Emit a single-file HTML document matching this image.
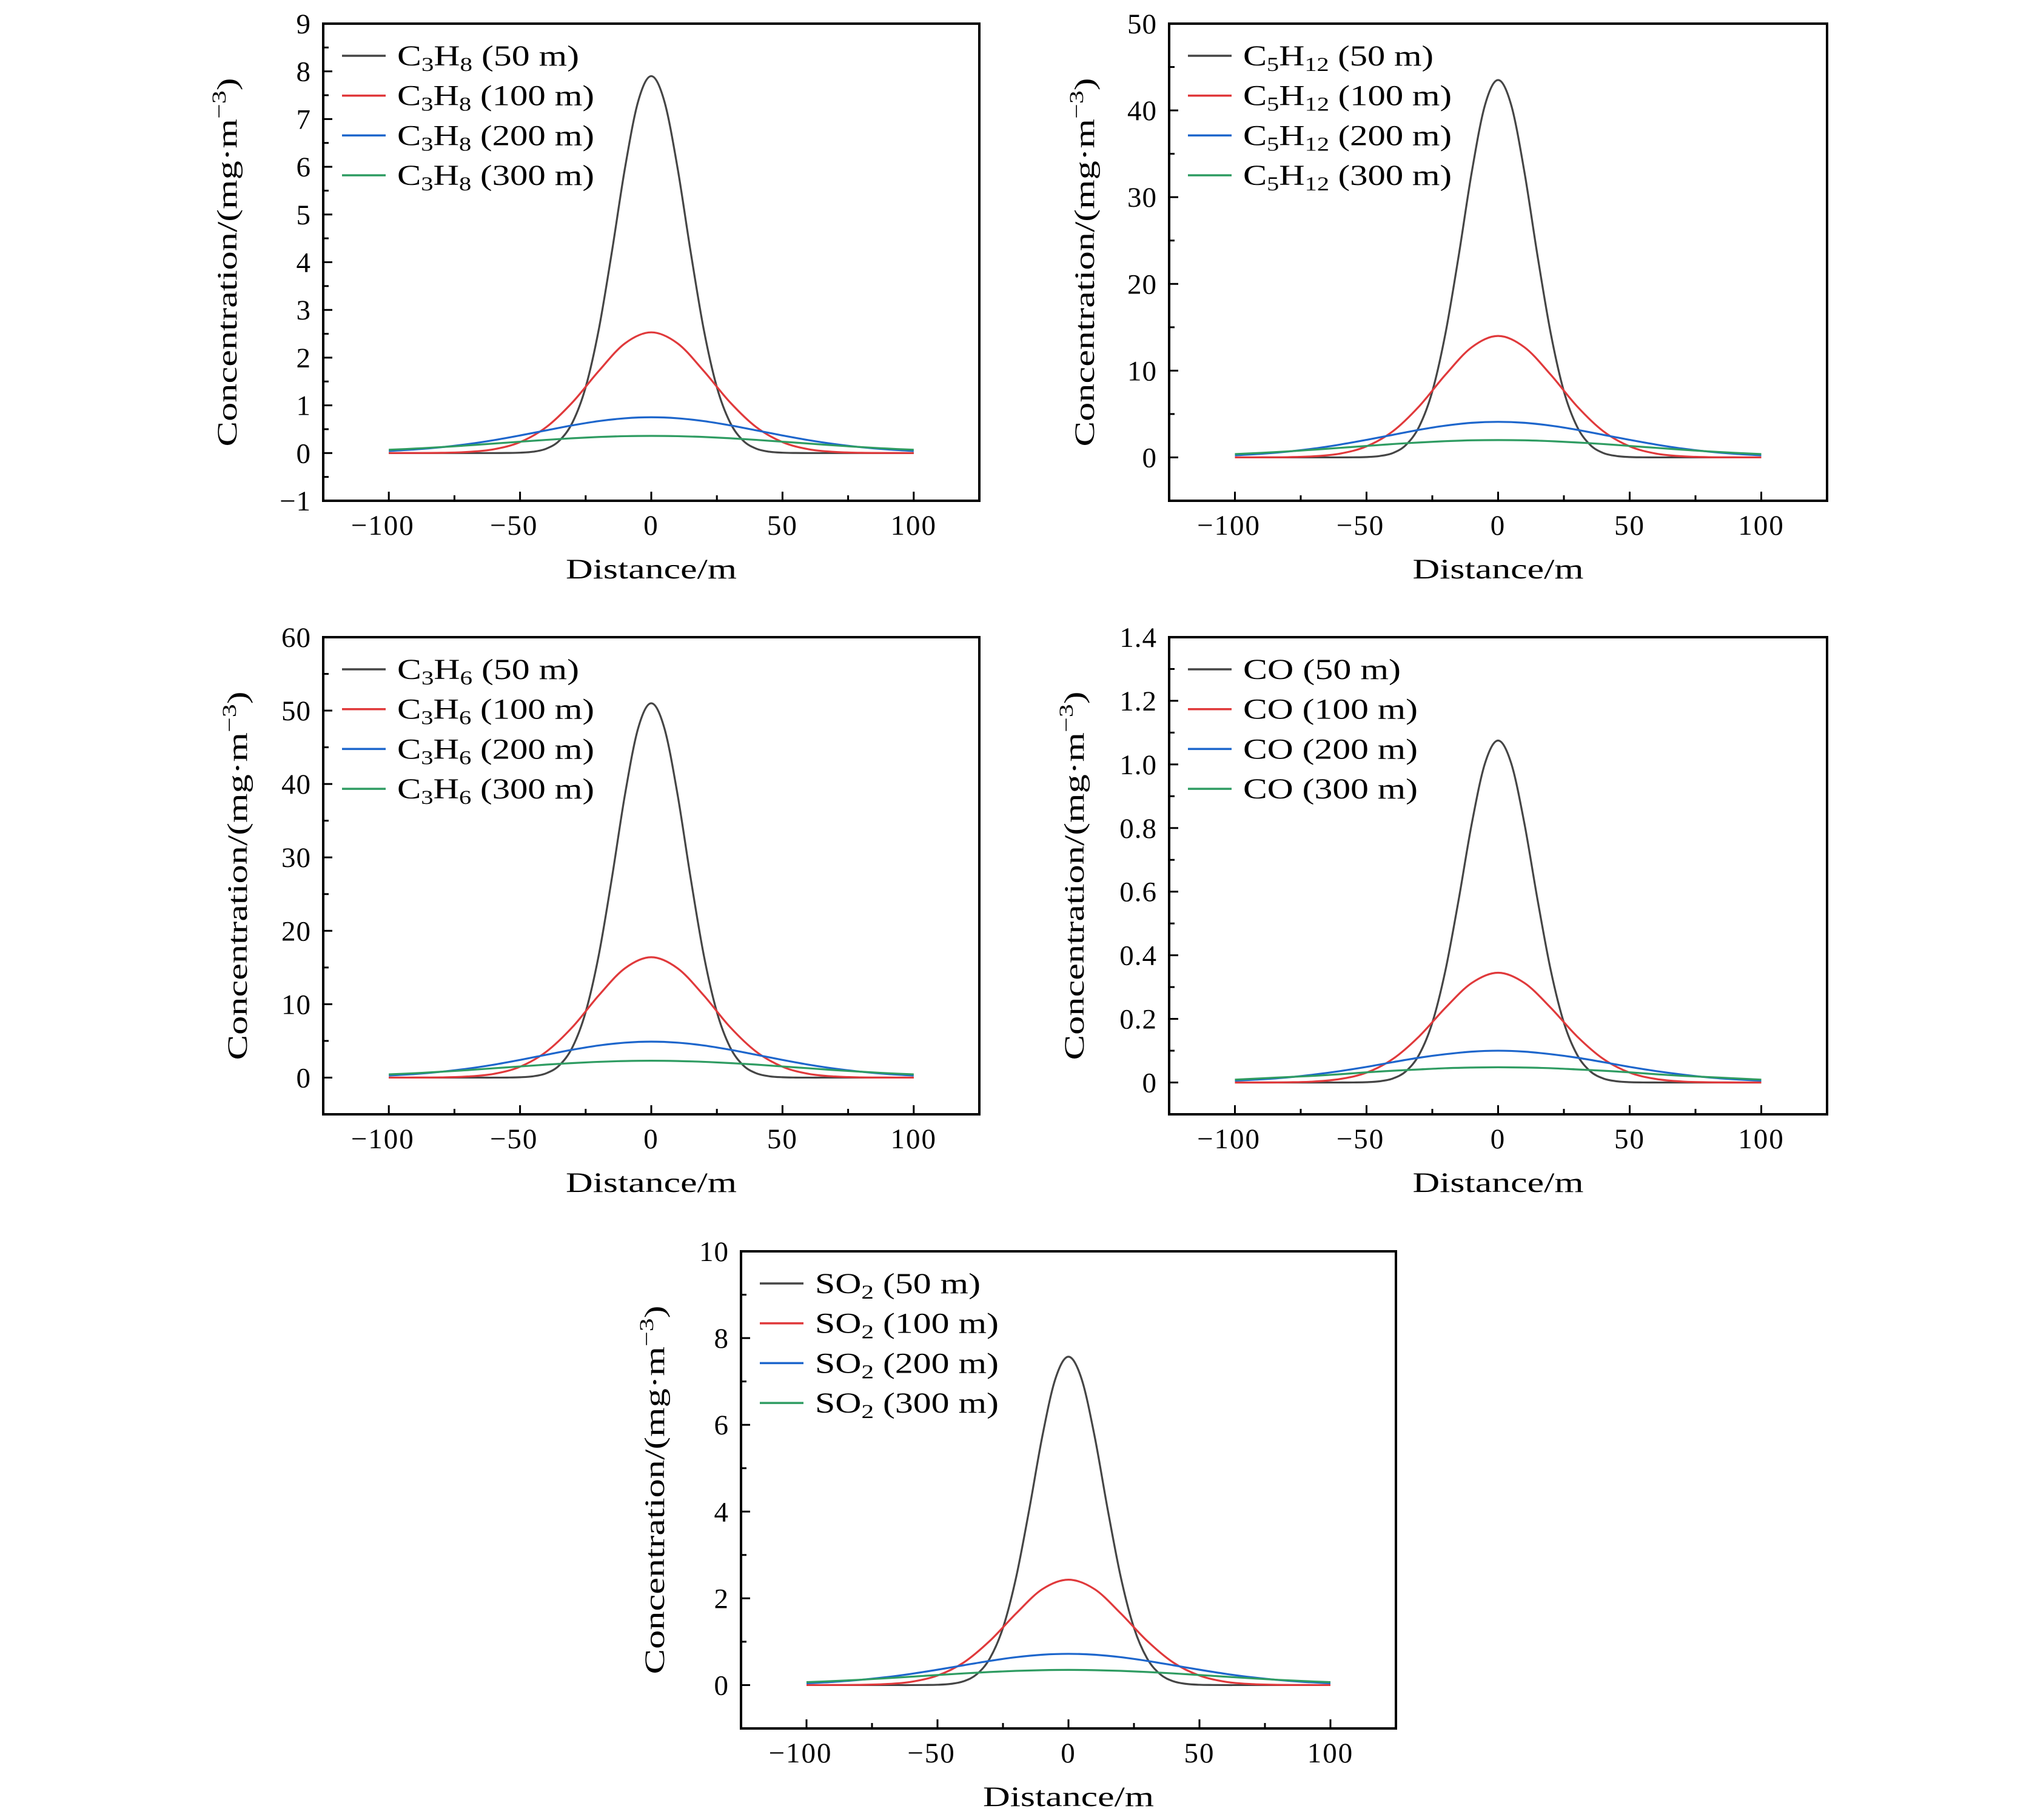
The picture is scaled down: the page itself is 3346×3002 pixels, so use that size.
<!DOCTYPE html>
<html><head><meta charset="utf-8"><style>
html,body{margin:0;padding:0;background:#fff;}
svg{display:block;}
text{font-family:"Liberation Serif",serif;fill:#000;}
</style></head><body>
<svg id="fig" width="3346" height="3002" viewBox="0 0 3346 3002" xmlns="http://www.w3.org/2000/svg"></svg>
<script>
// Shared x sample points (m)
const xPoints = [-100,-90,-80,-70,-60,-50,-40,-30,-20,-10,0,10,20,30,40,50,60,70,80,90,100];
// Finer grid for the narrow 50 m series
const xFine = [-100,-95,-90,-85,-80,-75,-70,-65,-60,-55,-50,-45,-40,-35,-30,-25,-20,-15,-10,-5,0,5,10,15,20,25,30,35,40,45,50,55,60,65,70,75,80,85,90,95,100];
const xTicks = [-100,-50,0,50,100];
const xTickLabels = ["\u2212100","\u221250","0","50","100"];
const distances = ["50 m","100 m","200 m","300 m"];

// Panel 1: C3H8
const c3h8_50  = [0,0,0,0,0,0,0,0,0,0.002,0.008,0.028,0.092,0.261,0.644,1.38,2.59,4.22,5.98,7.37,7.9,7.37,5.98,4.22,2.59,1.38,0.644,0.261,0.092,0.028,0.008,0.002,0,0,0,0,0,0,0,0,0];
const c3h8_100 = [0,0.001,0.005,0.023,0.079,0.229,0.544,1.065,1.72,2.30,2.53,2.30,1.72,1.065,0.544,0.229,0.079,0.023,0.005,0.001,0];
const c3h8_200 = [0.044,0.076,0.122,0.187,0.270,0.369,0.476,0.581,0.670,0.729,0.75,0.729,0.670,0.581,0.476,0.369,0.270,0.187,0.122,0.076,0.044];
const c3h8_300 = [0.069,0.094,0.125,0.160,0.199,0.238,0.276,0.310,0.337,0.354,0.36,0.354,0.337,0.310,0.276,0.238,0.199,0.160,0.125,0.094,0.069];
const c3h8_yTicks = [-1,0,1,2,3,4,5,6,7,8,9];
const c3h8_yTickLabels = ["\u22121","0","1","2","3","4","5","6","7","8","9"];

// Panel 2: C5H12
const c5h12_50  = [0,0,0,0,0,0,0,0,0,0.01,0.04,0.16,0.50,1.44,3.55,7.61,14.3,23.2,32.9,40.6,43.5,40.6,32.9,23.2,14.3,7.61,3.55,1.44,0.50,0.16,0.04,0.01,0,0,0,0,0,0,0,0,0];
const c5h12_100 = [0,0.006,0.029,0.126,0.44,1.27,3.01,5.89,9.53,12.7,14,12.7,9.53,5.89,3.01,1.27,0.44,0.126,0.029,0.006,0];
const c5h12_200 = [0.24,0.41,0.67,1.02,1.48,2.02,2.60,3.18,3.66,3.99,4.1,3.99,3.66,3.18,2.60,2.02,1.48,1.02,0.67,0.41,0.24];
const c5h12_300 = [0.38,0.52,0.69,0.89,1.10,1.32,1.54,1.72,1.87,1.97,2.0,1.97,1.87,1.72,1.54,1.32,1.10,0.89,0.69,0.52,0.38];
const c5h12_yTicks = [0,10,20,30,40,50];
const c5h12_yTickLabels = ["0","10","20","30","40","50"];

// Panel 3: C3H6
const c3h6_50  = [0,0,0,0,0,0,0,0,0,0.01,0.05,0.18,0.59,1.68,4.16,8.93,16.7,27.2,38.6,47.6,51,47.6,38.6,27.2,16.7,8.93,4.16,1.68,0.59,0.18,0.05,0.01,0,0,0,0,0,0,0,0,0];
const c3h6_100 = [0,0.007,0.034,0.15,0.51,1.48,3.53,6.90,11.2,14.9,16.4,14.9,11.2,6.90,3.53,1.48,0.51,0.15,0.034,0.007,0];
const c3h6_200 = [0.29,0.49,0.80,1.22,1.76,2.41,3.11,3.80,4.38,4.76,4.9,4.76,4.38,3.80,3.11,2.41,1.76,1.22,0.80,0.49,0.29];
const c3h6_300 = [0.44,0.60,0.80,1.02,1.27,1.52,1.77,1.98,2.15,2.26,2.3,2.26,2.15,1.98,1.77,1.52,1.27,1.02,0.80,0.60,0.44];
const c3h6_yTicks = [0,10,20,30,40,50,60];
const c3h6_yTickLabels = ["0","10","20","30","40","50","60"];

// Panel 4: CO
const co_50  = [0,0,0,0,0,0,0,0,0,0.0002,0.001,0.0039,0.0125,0.0355,0.0876,0.188,0.353,0.574,0.814,1.003,1.075,1.003,0.814,0.574,0.353,0.188,0.0876,0.0355,0.0125,0.0039,0.001,0.0002,0,0,0,0,0,0,0,0,0];
const co_100 = [0,0,0.0007,0.003,0.011,0.031,0.074,0.145,0.235,0.313,0.345,0.313,0.235,0.145,0.074,0.031,0.011,0.003,0.0007,0,0];
const co_200 = [0.006,0.010,0.016,0.025,0.036,0.049,0.064,0.078,0.089,0.097,0.10,0.097,0.089,0.078,0.064,0.049,0.036,0.025,0.016,0.010,0.006];
const co_300 = [0.009,0.013,0.017,0.021,0.026,0.032,0.037,0.041,0.045,0.047,0.048,0.047,0.045,0.041,0.037,0.032,0.026,0.021,0.017,0.013,0.009];
const co_yTicks = [0,0.2,0.4,0.6,0.8,1.0,1.2,1.4];
const co_yTickLabels = ["0","0.2","0.4","0.6","0.8","1.0","1.2","1.4"];

// Panel 5: SO2
const so2_50  = [0,0,0,0,0,0,0,0,0,0.002,0.007,0.027,0.088,0.250,0.617,1.32,2.48,4.04,5.73,7.06,7.57,7.06,5.73,4.04,2.48,1.32,0.617,0.250,0.088,0.027,0.007,0.002,0,0,0,0,0,0,0,0,0];
const so2_100 = [0,0.001,0.005,0.022,0.076,0.22,0.52,1.02,1.65,2.21,2.43,2.21,1.65,1.02,0.52,0.22,0.076,0.022,0.005,0.001,0];
const so2_200 = [0.042,0.073,0.117,0.179,0.259,0.354,0.457,0.558,0.643,0.70,0.72,0.70,0.643,0.558,0.457,0.354,0.259,0.179,0.117,0.073,0.042];
const so2_300 = [0.067,0.092,0.121,0.156,0.193,0.232,0.269,0.302,0.328,0.344,0.35,0.344,0.328,0.302,0.269,0.232,0.193,0.156,0.121,0.092,0.067];
const so2_yTicks = [0,2,4,6,8,10];
const so2_yTickLabels = ["0","2","4","6","8","10"];

const NS = "http://www.w3.org/2000/svg";
const svg = document.getElementById('fig');
const colors = ["#454545","#e0393b","#1d66cc","#2f9c62"];

function mk(tag, attrs, parent){
  const e = document.createElementNS(NS, tag);
  for (const k in attrs) e.setAttribute(k, attrs[k]);
  parent.appendChild(e);
  return e;
}

const panels = [
  {id:"c3h8", box:[533,39,1082,787], ymin:-1, ymax:9, minor:0.5, sp:["C","3","H","8"], yoff:-159, lw:[300,325],
   series:[c3h8_50,c3h8_100,c3h8_200,c3h8_300], yt:c3h8_yTicks, ytl:c3h8_yTickLabels},
  {id:"c5h12", box:[1928,39,1085,787], ymin:-5, ymax:50, minor:5, sp:["C","5","H","12"], yoff:-140, lw:[314,344],
   series:[c5h12_50,c5h12_100,c5h12_200,c5h12_300], yt:c5h12_yTicks, ytl:c5h12_yTickLabels},
  {id:"c3h6", box:[533,1051,1082,787], ymin:-5, ymax:60, minor:5, sp:["C","3","H","6"], yoff:-142, lw:[300,325],
   series:[c3h6_50,c3h6_100,c3h6_200,c3h6_300], yt:c3h6_yTicks, ytl:c3h6_yTickLabels},
  {id:"co", box:[1928,1051,1085,787], ymin:-0.1, ymax:1.4, minor:0.1, sp:["CO"], yoff:-157, lw:[260,288],
   series:[co_50,co_100,co_200,co_300], yt:co_yTicks, ytl:co_yTickLabels},
  {id:"so2", box:[1222,2064,1080,787], ymin:-1, ymax:10, minor:1, sp:["SO","2"], yoff:-143, lw:[273,303],
   series:[so2_50,so2_100,so2_200,so2_300], yt:so2_yTicks, ytl:so2_yTickLabels}
];

function smoothPath(pts){
  let d = "M" + pts[0][0].toFixed(2) + "," + pts[0][1].toFixed(2);
  for (let i=0;i<pts.length-1;i++){
    const p0 = pts[Math.max(0,i-1)], p1 = pts[i], p2 = pts[i+1], p3 = pts[Math.min(pts.length-1,i+2)];
    const c1x = p1[0] + (p2[0]-p0[0])/6, c1y = p1[1] + (p2[1]-p0[1])/6;
    const c2x = p2[0] - (p3[0]-p1[0])/6, c2y = p2[1] - (p3[1]-p1[1])/6;
    d += " C" + c1x.toFixed(2)+","+c1y.toFixed(2)+" "+c2x.toFixed(2)+","+c2y.toFixed(2)+" "+p2[0].toFixed(2)+","+p2[1].toFixed(2);
  }
  return d;
}

panels.forEach(p => {
  const [L,T,W,H] = p.box;
  const g = mk('g', {}, svg);
  
  
  const sx = v => L + (v + 125) / 250 * W;
  const sy = v => T + (p.ymax - v) / (p.ymax - p.ymin) * H;

  p.series.forEach((vals, si) => {
    const xs = (vals.length === xFine.length) ? xFine : xPoints;
    const pts = xs.map((x,i) => [sx(x), sy(vals[i])]);
    const path = mk('path', {d: smoothPath(pts), fill:"none", stroke: colors[si], "stroke-width":3.2, "stroke-linejoin":"round"}, g);
    
    
  });

  const rect = mk('rect', {x:L, y:T, width:W, height:H, fill:"none", stroke:"#000", "stroke-width":4}, g);
  
  

  for (let v=-125; v<=125.001; v+=25){
    const major = (v % 50 === 0);
    mk('line', {x1:sx(v), x2:sx(v), y1:T+H, y2:T+H-(major?15:9), stroke:"#000", "stroke-width":3}, g);
  }
  xTicks.forEach((v,i) => {
    const t = mk('text', {x:sx(v) + (v<0?-10:0), y:T+H+56, "text-anchor":"middle", "font-size":47, "letter-spacing":2}, g);
    t.textContent = xTickLabels[i];
    
    
  });
  const nMinor = Math.round((p.ymax - p.ymin)/p.minor);
  for (let k=0; k<=nMinor; k++){
    const v = p.ymin + k*p.minor;
    const isMajor = p.yt.some(t => Math.abs(t - v) < 1e-6);
    mk('line', {x1:L, x2:L+(isMajor?15:9), y1:sy(v), y2:sy(v), stroke:"#000", "stroke-width":3}, g);
  }
  p.yt.forEach((v,i) => {
    const t = mk('text', {x:L-20, y:sy(v)+16, "text-anchor":"end", "font-size":47, "letter-spacing":1}, g);
    t.textContent = p.ytl[i];
    
    
  });

  const xt = mk('text', {x:L+W/2, y:T+H+128, "text-anchor":"middle", "font-size":47, textLength:282, lengthAdjust:"spacingAndGlyphs"}, g);
  xt.textContent = "Distance/m";
  
  

  const cx = L + p.yoff, cy = T + H/2;
  const yt = mk('text', {x:cx, y:cy, "text-anchor":"middle", "font-size":47, transform:"rotate(-90 "+cx+" "+cy+")", dy:16, textLength:608, lengthAdjust:"spacingAndGlyphs"}, g);
  
  
  yt.appendChild(document.createTextNode("Concentration/(mg\u00b7m"));
  const sup = mk('tspan', {"font-size":33, dy:-18}, yt);
  sup.textContent = "\u22123";
  const close = mk('tspan', {dy:18}, yt);
  close.textContent = ")";

  distances.forEach((dist, si) => {
    const ly = T + 53 + si*65.7;
    const le = mk('g', {}, g);
    
    
    mk('line', {x1:L+31, x2:L+103, y1:ly, y2:ly, stroke:colors[si], "stroke-width":3.5}, le);
    const t = mk('text', {x:L+122, y:ly+16, "font-size":48, textLength: (si===0 ? p.lw[0] : p.lw[1]), lengthAdjust:"spacingAndGlyphs"}, le);
    for (let k=0;k<p.sp.length;k++){
      const sub = (k % 2 === 1);
      const ts = mk('tspan', sub ? {"font-size":33, dy:9} : (k>0 ? {dy:-9} : {}), t);
      ts.textContent = p.sp[k];
    }
    const rest = mk('tspan', p.sp.length % 2 === 0 ? {dy:-9} : {}, t);
    rest.textContent = " (" + dist + ")";
  });
});
</script>
</body></html>
